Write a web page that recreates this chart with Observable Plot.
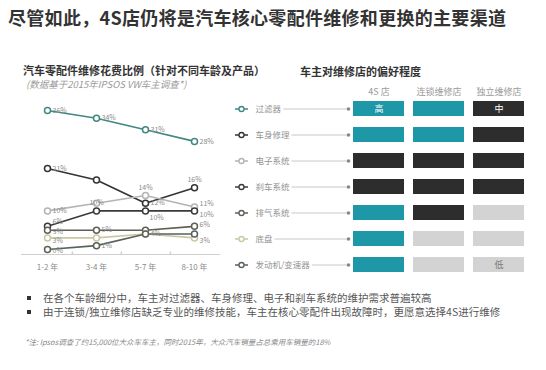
<!DOCTYPE html>
<html>
<head>
<meta charset="utf-8">
<script src="https://cdn.jsdelivr.net/npm/d3@7"></script>
<script src="https://cdn.jsdelivr.net/npm/@observablehq/plot@0.6"></script>
<style>
  html, body { margin: 0; padding: 0; background: #fff; }
  body { width: 546px; height: 370px; position: relative; overflow: hidden; font-family: "Noto Sans CJK SC", "Noto Sans", sans-serif; }
  .abs { position: absolute; white-space: nowrap; z-index: 2; }
  #title { left: 8px; top: 6px; font-size: 18px; font-weight: bold; color: #333; line-height: 22px; letter-spacing: 0.3px; }
  #sub1 { left: 23px; top: 63px; font-size: 11px; font-weight: bold; color: #333; line-height: 14px; }
  #sub2 { left: 26px; top: 78px; font-size: 9.5px; font-style: italic; color: #9a9a9a; line-height: 12px; }
  #sub3 { left: 300px; top: 64px; font-size: 11px; font-weight: bold; color: #333; line-height: 14px; }
  .bullet { left: 27px; font-size: 10.5px; color: #555; line-height: 14px; }
  .bullet::before { content: ""; display: inline-block; width: 4px; height: 4px; background: #333; margin-right: 12px; vertical-align: middle; position: relative; top: -1px; }
  #foot { left: 25px; top: 336px; font-size: 7.5px; font-style: italic; color: #888; line-height: 11px; }
  #left { position: absolute; left: 0; top: 90px; z-index: 1; }
  #right { position: absolute; left: 220px; top: 60px; z-index: 1; }
  svg { background: transparent !important; }
</style>
</head>
<body>
<div id="title" class="abs">尽管如此，4S店仍将是汽车核心零配件维修和更换的主要渠道</div>
<div id="sub1" class="abs">汽车零配件维修花费比例（针对不同车龄及产品）</div>
<div id="sub2" class="abs">(数据基于2015年IPSOS VW车主调查*)</div>
<div id="sub3" class="abs">车主对维修店的偏好程度</div>
<div id="b1" class="abs bullet" style="top:291px">在各个车龄细分中，车主对过滤器、车身修理、电子和刹车系统的维护需求普遍较高</div>
<div id="b2" class="abs bullet" style="top:305px">由于连锁/独立维修店缺乏专业的维修技能，车主在核心零配件出现故障时，更愿意选择4S进行维修</div>
<div id="foot" class="abs">*注: Ipsos调查了约15,000位大众车车主，同时2015年，大众汽车销量占总乘用车销量的18%</div>
<div id="left"></div>
<div id="right"></div>
<script>
// ---------- data ----------
const ages = ["1-2 年", "3-4 年", "5-7 年", "8-10 年"];
const parts = ["过滤器", "车身修理", "电子系统", "刹车系统", "排气系统", "底盘", "发动机/变速器"];
const filterShare     = [36, 34, 31, 28];
const bodyShare       = [21, 18, 12, 16];
const electronicShare = [10, 12, 14, 11];
const brakeShare      = [6, 10, 10, 10];
const exhaustShare    = [5, 5, 5, 6];
const chassisShare    = [3, 3, 4, 3];
const engineShare     = [0, 1, 4, 4];
const shares = [filterShare, bodyShare, electronicShare, brakeShare, exhaustShare, chassisShare, engineShare];

const stores = ["4S 店", "连锁维修店", "独立维修店"];
const levels = ["高", "中", "低"];
const prefFilter     = ["高", "高", "中"];
const prefBody       = ["高", "高", "中"];
const prefElectronic = ["中", "中", "中"];
const prefBrake      = ["中", "中", "中"];
const prefExhaust    = ["高", "中", "低"];
const prefChassis    = ["高", "低", "低"];
const prefEngine     = ["高", "低", "低"];
const prefs = [prefFilter, prefBody, prefElectronic, prefBrake, prefExhaust, prefChassis, prefEngine];
const shownLevels = [["过滤器", "4S 店"], ["过滤器", "独立维修店"], ["发动机/变速器", "独立维修店"]];

// ---------- styles ----------
const seriesColors = ["#3f8882", "#333333", "#b4b4b4", "#3a3a3a", "#5f5f55", "#c9c8a4", "#56625a"];
const levelColors = ["#1e98a6", "#2d2d2d", "#d3d3d3"];
const font = "'Noto Sans CJK SC', 'Noto Sans', sans-serif";
const labelSkip = new Set(["车身修理|3-4 年", "电子系统|3-4 年", "底盘|3-4 年", "底盘|5-7 年", "排气系统|5-7 年", "发动机/变速器|8-10 年"]);
const labelAbove = new Set(["刹车系统|3-4 年", "电子系统|5-7 年", "车身修理|8-10 年"]);
const labelBelow = new Set(["刹车系统|5-7 年"]);
const labelNudge = {"电子系统|8-10 年": -3, "刹车系统|8-10 年": 4, "刹车系统|1-2 年": -5, "排气系统|1-2 年": 1.5, "底盘|1-2 年": 3, "排气系统|8-10 年": -2, "底盘|8-10 年": 3, "发动机/变速器|1-2 年": 1};

// ---------- tidy rows ----------
const rows = [];
parts.forEach((p, i) => ages.forEach((a, j) => rows.push({part: p, age: a, value: shares[i][j], key: p + "|" + a})));
const prefRows = [];
parts.forEach((p, i) => stores.forEach((s, j) => prefRows.push({part: p, store: s, level: prefs[i][j]})));
const isShown = d => shownLevels.some(([p, s]) => p === d.part && s === d.store);

// custom symbols
const vtick = {draw(ctx) { ctx.moveTo(0, -3); ctx.lineTo(0, 0); }};
const oGlyph = {draw(ctx, size) {
  const r = Math.sqrt(size / Math.PI);
  ctx.moveTo(-r - 4, 0); ctx.lineTo(-r, 0);
  ctx.moveTo(r, 0); ctx.arc(0, 0, r, 0, 2 * Math.PI);
  ctx.moveTo(r, 0); ctx.lineTo(r + 4, 0);
}};
const connector = {draw(ctx) { ctx.moveTo(-88, 0); ctx.lineTo(0, 0); }};

// ---------- left line chart ----------
const LW = 230, LH = 195, LML = 21, LMR = 10;
const step = (LW - LML - LMR) / ages.length;
const rightLabels = rows.filter(d => !labelSkip.has(d.key) && !labelAbove.has(d.key) && !labelBelow.has(d.key));
const rightLabelMarks = [...new Set(rightLabels.map(d => labelNudge[d.key] || 0))].map(n =>
  Plot.text(rightLabels.filter(d => (labelNudge[d.key] || 0) === n),
    {x: "age", y: "value", text: d => d.value + "%", dx: 5, dy: n, textAnchor: "start", fontSize: 7, fill: "#8a8a8a"}));
const left = Plot.plot({
  width: LW, height: LH, marginLeft: LML, marginRight: LMR, marginTop: 20, marginBottom: 36,
  style: {fontFamily: font, background: "transparent"},
  x: {type: "point", domain: ages, padding: 0.5, axis: null},
  y: {domain: [0, 36], axis: null},
  color: {domain: parts, range: seriesColors},
  marks: [
    Plot.ruleY([0], {dy: 5, stroke: "#cfcfcf", strokeWidth: 1}),
    Plot.dot(ages.slice(0, -1), {x: d => d, frameAnchor: "bottom", dx: step / 2, dy: 5, symbol: vtick, stroke: "#cfcfcf", fill: "none"}),
    Plot.axisX({tickSize: 0, tickPadding: 15, fontSize: 8, fill: "#8a8a8a", label: null}),
    Plot.line(rows, {x: "age", y: "value", z: "part", stroke: "part", strokeWidth: 1.6}),
    Plot.dot(rows, {x: "age", y: "value", stroke: "part", fill: "white", r: 3, strokeWidth: 1.5}),
    ...rightLabelMarks,
    Plot.text(rows.filter(d => labelAbove.has(d.key)),
      {x: "age", y: "value", text: d => d.value + "%", dy: -8, fontSize: 7, fill: "#8a8a8a"}),
    Plot.text(rows.filter(d => labelBelow.has(d.key)),
      {x: "age", y: "value", text: d => d.value + "%", dx: 4, dy: 7, textAnchor: "start", fontSize: 7, fill: "#8a8a8a"})
  ]
});
document.getElementById("left").appendChild(left);

// ---------- right preference matrix ----------
const RW = 326, RH = 230, RML = 124;
const rightMarks = [
  Plot.cell(prefRows, {x: "store", y: "part", fill: "level", inset: 0}),
  Plot.text(prefRows.filter(d => isShown(d) && d.level !== "低"), {x: "store", y: "part", text: "level", fill: "white", fontSize: 9}),
  Plot.text(prefRows.filter(d => isShown(d) && d.level === "低"), {x: "store", y: "part", text: "level", fill: "#777", fontSize: 9}),
  Plot.text(stores, {x: d => d, frameAnchor: "top", dy: -2, fill: "#9a9a9a", fontSize: 9}),
  Plot.dot(parts, {y: d => d, frameAnchor: "left", dx: 4, symbol: connector, stroke: "#c8c8c8", fill: "none", strokeWidth: 1}),
  Plot.dot(parts, {y: d => d, frameAnchor: "left", dx: 4, r: 1.8, fill: "#888", stroke: "none"}),
  Plot.text(parts, {y: d => d, frameAnchor: "left", dx: -89, textAnchor: "start", fill: "#939393", stroke: "white", strokeWidth: 5, fontSize: 8.5})
];
parts.forEach((p, i) => rightMarks.push(
  Plot.dot([p], {y: d => d, frameAnchor: "left", dx: -103, symbol: oGlyph, r: 2.5, stroke: seriesColors[i], fill: "white", strokeWidth: 1.4})
));
const right = Plot.plot({
  width: RW, height: RH, marginLeft: RML, marginRight: 13, marginTop: 30, marginBottom: 7,
  style: {fontFamily: font, background: "transparent"},
  x: {domain: stores, padding: 0.15, axis: null},
  y: {domain: parts, padding: 0.42, axis: null},
  color: {domain: levels, range: levelColors},
  marks: rightMarks
});
document.getElementById("right").appendChild(right);
</script>
</body>
</html>
